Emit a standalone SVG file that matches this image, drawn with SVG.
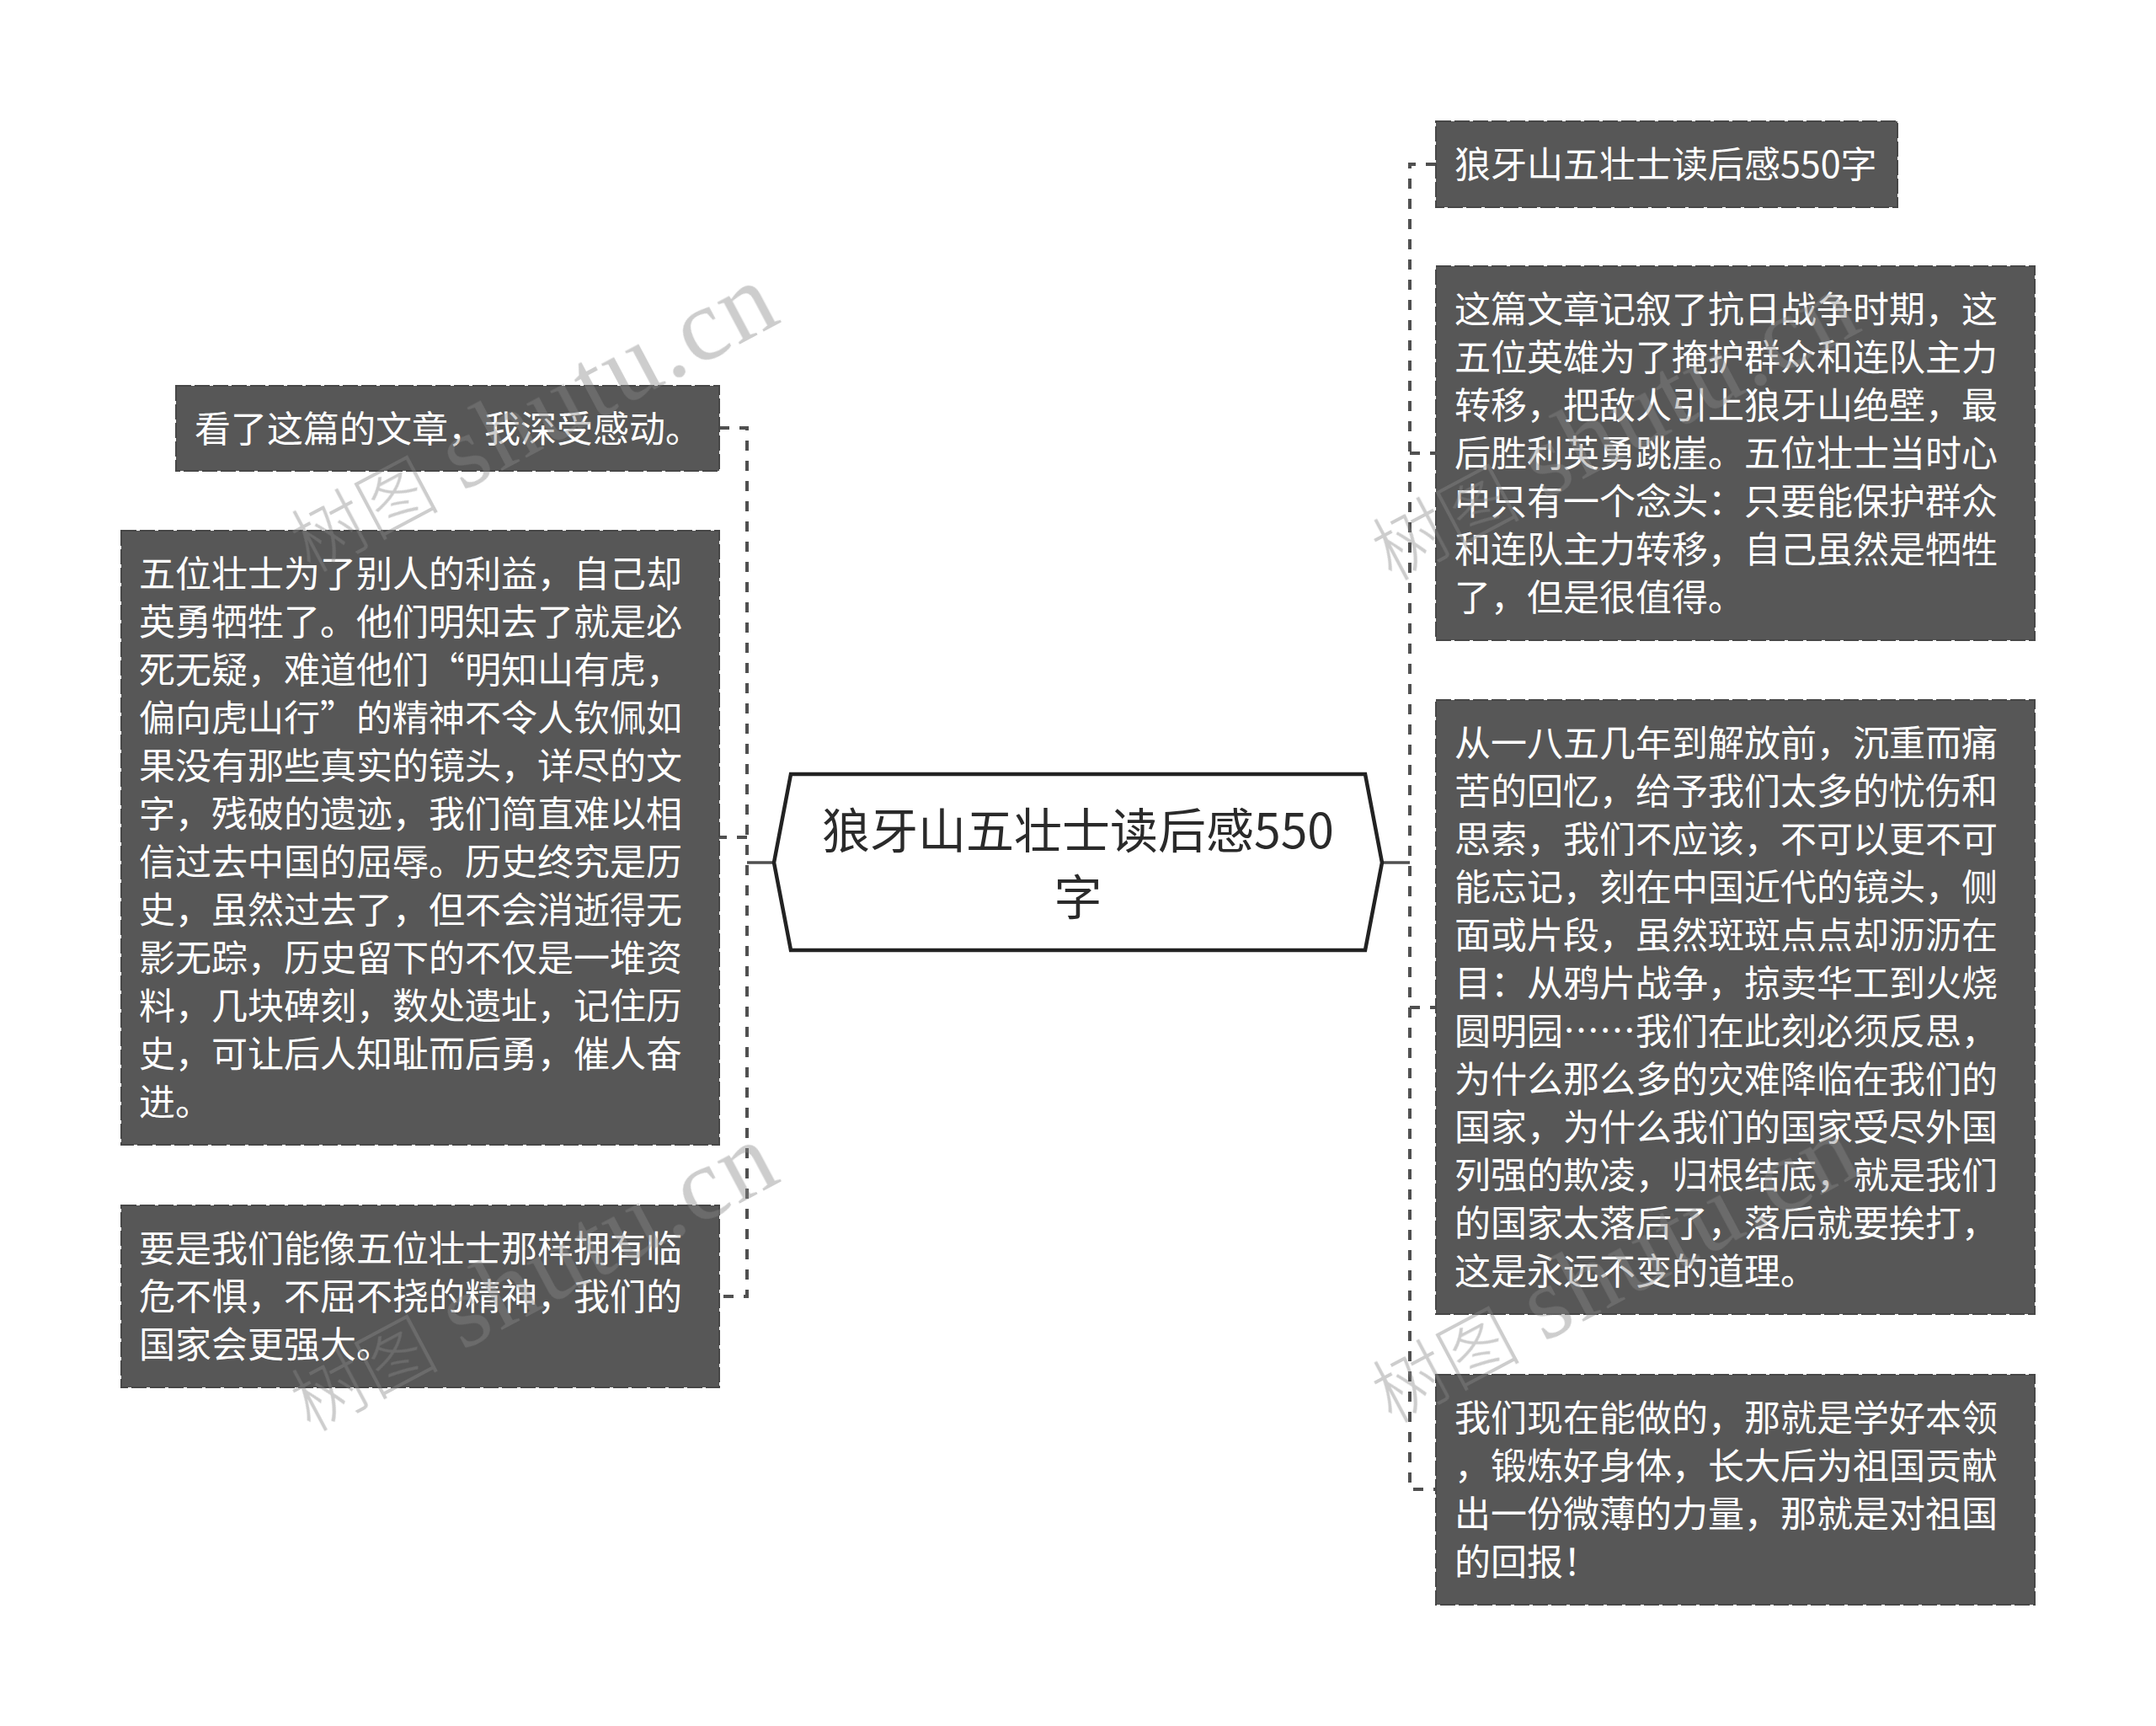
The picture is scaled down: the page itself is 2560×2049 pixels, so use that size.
<svg xmlns="http://www.w3.org/2000/svg" width="2560" height="2049" viewBox="0 0 2560 2049">
<style>
.box{fill:#575757;stroke:#474747;stroke-width:2;stroke-dasharray:18 4}
.t{font-family:"Noto Sans CJK SC","Microsoft YaHei",sans-serif;font-size:43px;fill:#ffffff}
.ct{font-family:"Noto Sans CJK SC","Microsoft YaHei",sans-serif;font-size:57px;fill:#2a2a2a;text-anchor:middle}
.solid{stroke:#505050;stroke-width:3.5;fill:none}
.dash{stroke:#505050;stroke-width:4;fill:none;stroke-dasharray:12 12}
.wm{fill:#888888;opacity:0.42}
.wmc{font-family:"Noto Sans CJK SC",sans-serif;font-size:88px;font-weight:300}
.wml{font-family:"Liberation Serif",serif;font-size:122px;letter-spacing:3px}
</style>
<rect width="2560" height="2049" fill="#ffffff"/>
<g id="connectors">
<path class="solid" d="M1641,1024 H1674"/>
<path class="dash" d="M1705,195 H1674 V1768 H1705"/>
<path class="dash" d="M1674,538 H1705"/>
<path class="dash" d="M1674,1196 H1705"/>
<path class="solid" d="M919,1024 H887"/>
<path class="dash" d="M854,508 H887 V1539 H854"/>
<path class="dash" d="M887,994 H854"/>
</g>
<g id="center">
<polygon points="939,919 1621,919 1641,1024 1621,1128 939,1128 919,1024" fill="#ffffff" stroke="#222222" stroke-width="4.5"/>
<text class="ct" x="1280" y="1007">狼牙山五壮士读后感550</text>
<text class="ct" x="1280" y="1086">字</text>
</g>
<g id="r1">
<rect class="box" x="1705" y="144" width="548" height="102"/>
<text class="t" x="1727" y="211">狼牙山五壮士读后感550字</text>
</g>
<g id="r2">
<rect class="box" x="1705" y="316" width="711" height="444"/>
<text class="t" x="1727" y="383">这篇文章记叙了抗日战争时期，这</text>
<text class="t" x="1727" y="440">五位英雄为了掩护群众和连队主力</text>
<text class="t" x="1727" y="497">转移，把敌人引上狼牙山绝壁，最</text>
<text class="t" x="1727" y="554">后胜利英勇跳崖。五位壮士当时心</text>
<text class="t" x="1727" y="611">中只有一个念头：只要能保护群众</text>
<text class="t" x="1727" y="668">和连队主力转移，自己虽然是牺牲</text>
<text class="t" x="1727" y="725">了，但是很值得。</text>
</g>
<g id="r3">
<rect class="box" x="1705" y="831" width="711" height="729"/>
<text class="t" x="1727" y="898">从一八五几年到解放前，沉重而痛</text>
<text class="t" x="1727" y="955">苦的回忆，给予我们太多的忧伤和</text>
<text class="t" x="1727" y="1012">思索，我们不应该，不可以更不可</text>
<text class="t" x="1727" y="1069">能忘记，刻在中国近代的镜头，侧</text>
<text class="t" x="1727" y="1126">面或片段，虽然斑斑点点却沥沥在</text>
<text class="t" x="1727" y="1183">目：从鸦片战争，掠卖华工到火烧</text>
<text class="t" x="1727" y="1240">圆明园……我们在此刻必须反思，</text>
<text class="t" x="1727" y="1297">为什么那么多的灾难降临在我们的</text>
<text class="t" x="1727" y="1354">国家，为什么我们的国家受尽外国</text>
<text class="t" x="1727" y="1411">列强的欺凌，归根结底，就是我们</text>
<text class="t" x="1727" y="1468">的国家太落后了，落后就要挨打，</text>
<text class="t" x="1727" y="1525">这是永远不变的道理。</text>
</g>
<g id="r4">
<rect class="box" x="1705" y="1632" width="711" height="273"/>
<text class="t" x="1727" y="1699">我们现在能做的，那就是学好本领</text>
<text class="t" x="1727" y="1756">，锻炼好身体，长大后为祖国贡献</text>
<text class="t" x="1727" y="1813">出一份微薄的力量，那就是对祖国</text>
<text class="t" x="1727" y="1870">的回报！</text>
</g>
<g id="l1">
<rect class="box" x="209" y="458" width="645" height="101"/>
<text class="t" x="231" y="525">看了这篇的文章，我深受感动。</text>
</g>
<g id="l2">
<rect class="box" x="144" y="630" width="710" height="729"/>
<text class="t" x="165" y="697">五位壮士为了别人的利益，自己却</text>
<text class="t" x="165" y="754">英勇牺牲了。他们明知去了就是必</text>
<text class="t" x="165" y="811">死无疑，难道他们“明知山有虎，</text>
<text class="t" x="165" y="868">偏向虎山行”的精神不令人钦佩如</text>
<text class="t" x="165" y="925">果没有那些真实的镜头，详尽的文</text>
<text class="t" x="165" y="982">字，残破的遗迹，我们简直难以相</text>
<text class="t" x="165" y="1039">信过去中国的屈辱。历史终究是历</text>
<text class="t" x="165" y="1096">史，虽然过去了，但不会消逝得无</text>
<text class="t" x="165" y="1153">影无踪，历史留下的不仅是一堆资</text>
<text class="t" x="165" y="1210">料，几块碑刻，数处遗址，记住历</text>
<text class="t" x="165" y="1267">史，可让后人知耻而后勇，催人奋</text>
<text class="t" x="165" y="1324">进。</text>
</g>
<g id="l3">
<rect class="box" x="144" y="1431" width="710" height="216"/>
<text class="t" x="165" y="1498">要是我们能像五位壮士那样拥有临</text>
<text class="t" x="165" y="1555">危不惧，不屈不挠的精神，我们的</text>
<text class="t" x="165" y="1612">国家会更强大。</text>
</g>
<g id="watermarks" class="wm">
<text transform="translate(368,680) rotate(-28)"><tspan class="wmc">树图</tspan><tspan class="wml" x="205">shutu.cn</tspan></text>
<text transform="translate(368,1700) rotate(-28)"><tspan class="wmc">树图</tspan><tspan class="wml" x="205">shutu.cn</tspan></text>
<text transform="translate(1652,690) rotate(-28)"><tspan class="wmc">树图</tspan><tspan class="wml" x="205">shutu.cn</tspan></text>
<text transform="translate(1652,1690) rotate(-28)"><tspan class="wmc">树图</tspan><tspan class="wml" x="205">shutu.cn</tspan></text>
</g>
</svg>
